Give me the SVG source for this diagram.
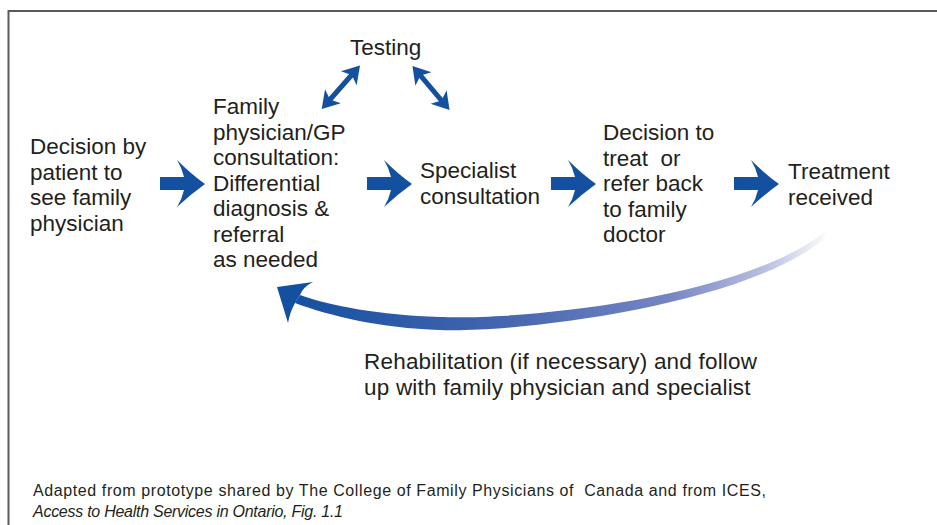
<svg xmlns="http://www.w3.org/2000/svg" width="937" height="525" viewBox="0 0 937 525">
<style>
  .lbl { font-family: "Liberation Sans", Arial, sans-serif; font-size: 22.5px; fill: #231f20; }
  .wide { letter-spacing: 0.2px; }
  .cap { font-family: "Liberation Sans", Arial, sans-serif; font-size: 16px; fill: #231f20; }
  .frame { stroke: #5a5a5a; stroke-width: 2; fill: none; }
  .flow { fill: #1450a0; }
  .dbl { stroke: #1450a0; stroke-width: 5; fill: none; marker-start: url(#hd); marker-end: url(#hd); }
</style>
<defs>
  <path id="bigArrow" d="M0,177 L24,177 Q22,168 17,160 Q31,174 45,184 Q31,194 17,207 Q22,199 24,190 L0,190 Z"/>
  <marker id="hd" markerUnits="userSpaceOnUse" viewBox="-28 -14 32 28" refX="-10" refY="0" markerWidth="32" markerHeight="28" orient="auto-start-reverse">
    <path d="M0,0 L-17,-10.5 L-12.5,0 L-17,10.5 Z" fill="#1450a0"/>
  </marker>
  <linearGradient id="fade" gradientUnits="userSpaceOnUse" x1="290" y1="0" x2="830" y2="0">
    <stop offset="0" stop-color="#1450a0"/>
    <stop offset="0.4" stop-color="#4566b0"/>
    <stop offset="0.7" stop-color="#7585c3"/>
    <stop offset="0.88" stop-color="#b9c0e0"/>
    <stop offset="1" stop-color="#ffffff"/>
  </linearGradient>
</defs>

<g id="frame">
  <line class="frame" x1="8" y1="11" x2="937" y2="11"/>
  <line class="frame" x1="8.5" y1="10" x2="8.5" y2="525"/>
</g>

<g id="connectors">
  <use href="#bigArrow" class="flow" x="160"/>
  <use href="#bigArrow" class="flow" x="367"/>
  <use href="#bigArrow" class="flow" x="551"/>
  <use href="#bigArrow" class="flow" x="734"/>
  <line class="dbl" x1="328.3" y1="101.5" x2="353.4" y2="73"/>
  <line class="dbl" x1="418.9" y1="73.7" x2="443.1" y2="102.3"/>
  <path d="M826,231 C740,300 520,320 440,317 C380,315 330,306 300,295 L295,303 C330,316 380,328 440,330 C520,333 745,305 824,239 Z" fill="url(#fade)"/>
  <path d="M277,287 L313,282 Q303,287 300,295 L295,303 Q290,312 288,323 Z" fill="#1450a0"/>
</g>

<g id="n-decision">
  <text class="lbl"><tspan x="30" y="154">Decision by</tspan><tspan x="30" y="179.5">patient to</tspan><tspan x="30" y="205">see family</tspan><tspan x="30" y="230.5">physician</tspan></text>
</g>
<g id="n-family">
  <text class="lbl"><tspan x="213" y="114">Family</tspan><tspan x="213" y="139.5">physician/GP</tspan><tspan x="213" y="165">consultation:</tspan><tspan x="213" y="190.5">Differential</tspan><tspan x="213" y="216">diagnosis &amp;</tspan><tspan x="213" y="241.5">referral</tspan><tspan x="213" y="267">as needed</tspan></text>
</g>
<g id="n-testing">
  <text class="lbl" x="350" y="55">Testing</text>
</g>
<g id="n-specialist">
  <text class="lbl"><tspan x="420" y="178">Specialist</tspan><tspan x="420" y="203.5">consultation</tspan></text>
</g>
<g id="n-treat">
  <text class="lbl"><tspan x="603" y="140">Decision to</tspan><tspan x="603" y="165.5" xml:space="preserve">treat  or</tspan><tspan x="603" y="191">refer back</tspan><tspan x="603" y="216.5">to family</tspan><tspan x="603" y="242">doctor</tspan></text>
</g>
<g id="n-treatment">
  <text class="lbl"><tspan x="788" y="179">Treatment</tspan><tspan x="788" y="204.5">received</tspan></text>
</g>
<g id="n-rehab">
  <text class="lbl wide"><tspan x="364" y="369">Rehabilitation (if necessary) and follow</tspan><tspan x="364" y="394.5">up with family physician and specialist</tspan></text>
</g>
<g id="caption">
  <text class="cap" x="33" y="496" textLength="733" xml:space="preserve">Adapted from prototype shared by The College of Family Physicians of  Canada and from ICES,</text>
  <text class="cap" x="33" y="517" font-style="italic" textLength="310">Access to Health Services in Ontario, Fig. 1.1</text>
</g>
</svg>
